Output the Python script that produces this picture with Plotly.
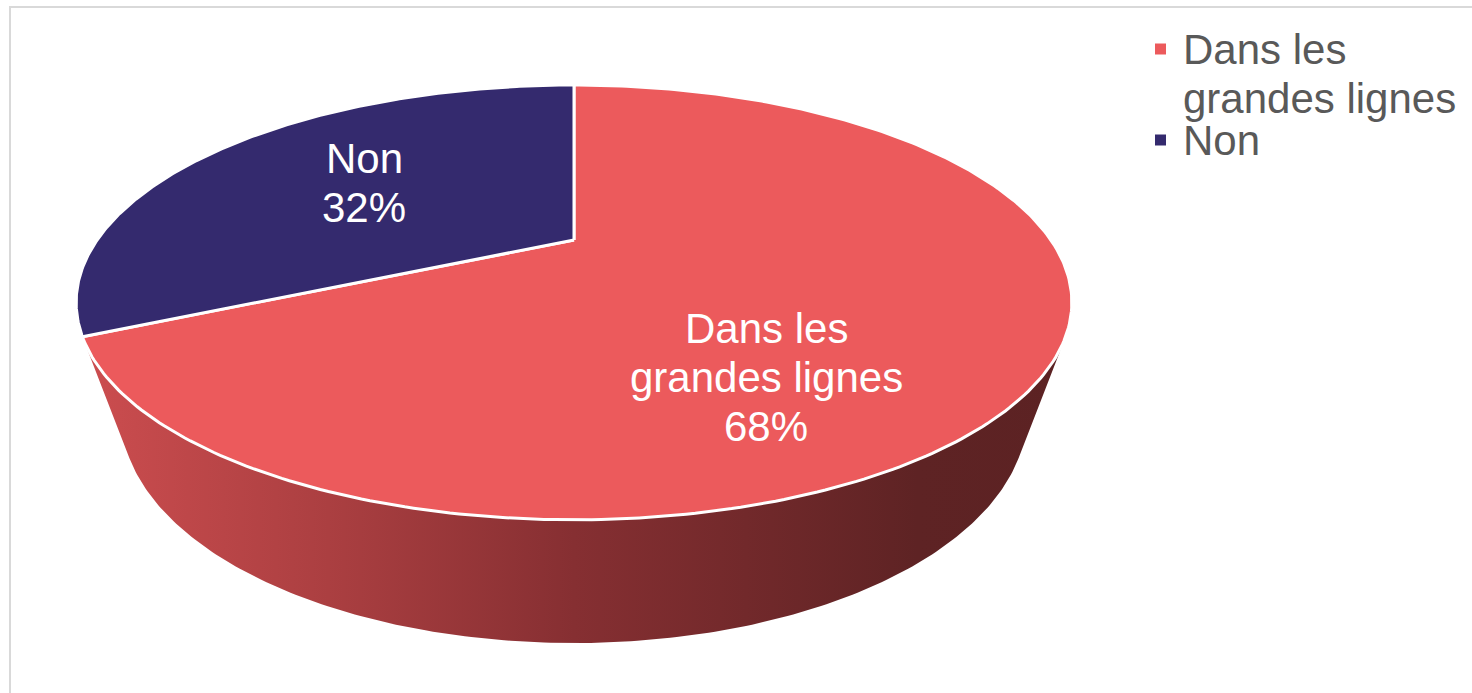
import numpy as np
import plotly.graph_objects as go

# ---- data -------------------------------------------------------------
categories = ["Dans les grandes lignes", "Non"]
label_lines = [["Dans les", "grandes lignes"], ["Non"]]
values = [68, 32]

# ---- styling ----------------------------------------------------------
top_colors = ["#EC5A5C", "#342A6E"]
side_scales = [
    [[0.0, "#CC4D4F"], [0.25, "#AB3F41"], [0.5, "#862F32"], [0.85, "#5E2324"], [1.0, "#5C2223"]],
    [[0.0, "#2F2660"], [1.0, "#1B1642"]],
]
FONT = "Liberation Sans, Arial, sans-serif"
W, H = 1472, 693

# ---- 3D pie camera (perspective projection of a tilted disc) ---------
CX, CY = 574.0, 240.0      # screen position of the pie centre
FX, FY = 1352.8, 974.4     # horizontal / vertical focal scale (plot area is stretched)
DIST = 2.8366              # camera distance (in pie radii)
TILT = np.radians(35.5)    # elevation of the camera
DEPTH = 0.4458             # thickness of the pie (in pie radii)
ca, sa = np.cos(TILT), np.sin(TILT)


def project(psi_deg, r=1.0, h=0.0):
    """psi measured clockwise from 12 o'clock, seen from above."""
    psi = np.radians(psi_deg)
    u = r * np.sin(psi)
    v = -r * np.cos(psi)
    z = DIST - v * ca - h * sa
    x = CX + FX * u / z
    y = CY + FY * (v * sa - h * ca) / z
    return x, y


# angular extent of every slice, first slice starting at 12 o'clock
total = float(sum(values))
bounds = np.concatenate([[0.0], np.cumsum(values) / total * 360.0])

# visible part of the cylinder wall lies between the two silhouette lines
psi_r = np.degrees(np.arccos(-1.0 / (DIST * ca)))
psi_l = 360.0 - psi_r
grad_start = project(psi_l, 1.0, 0.0)[0]
grad_stop = project(psi_r, 1.0, 0.0)[0]

fig = go.Figure()

# side walls
for i in range(len(values)):
    a0, a1 = max(bounds[i], psi_r), min(bounds[i + 1], psi_l)
    if a1 <= a0:
        continue
    ang = np.linspace(a0, a1, 200)
    xt, yt = project(ang, 1.0, 0.0)
    xb, yb = project(ang[::-1], 1.0, -DEPTH)
    fig.add_trace(go.Scatter(
        x=np.concatenate([xt, xb]), y=np.concatenate([yt, yb]),
        mode="lines", fill="toself", line=dict(width=0),
        fillgradient=dict(type="horizontal", colorscale=side_scales[i],
                          start=grad_start, stop=grad_stop),
        hoverinfo="skip", showlegend=False,
    ))

# top faces
for i, name in enumerate(categories):
    ang = np.linspace(bounds[i], bounds[i + 1], 300)
    xa, ya = project(ang, 1.0, 0.0)
    x0, y0 = project(0.0, 0.0, 0.0)
    fig.add_trace(go.Scatter(
        x=np.concatenate([[x0], xa, [x0]]), y=np.concatenate([[y0], ya, [y0]]),
        mode="lines", fill="toself", fillcolor=top_colors[i],
        line=dict(color="white", width=3), name=name,
        hoverinfo="skip", showlegend=False,
    ))

# ---- data labels --------------------------------------------------------
label_pos = [(766, 377), (364, 183)]
LINE_GAP = 49
annotations = []
for i in range(len(values)):
    lines = label_lines[i] + [f"{values[i]}%"]
    cx, cy = label_pos[i]
    n = len(lines)
    for k, txt in enumerate(lines):
        annotations.append(dict(
            x=cx, y=cy + (k - (n - 1) / 2) * LINE_GAP, xref="x", yref="y",
            text=txt, showarrow=False, xanchor="center", yanchor="middle",
            font=dict(family=FONT, size=42, color="white"),
        ))

# ---- legend (top right) -------------------------------------------------
legend_rows = [49, 140]
shapes = [dict(type="rect", xref="x", yref="y", x0=10, y0=7, x1=W + 20, y1=H + 20,
               line=dict(color="#D9D9D9", width=2), fillcolor="rgba(0,0,0,0)", layer="below")]
for i in range(len(values)):
    ry = legend_rows[i]
    shapes.append(dict(type="rect", xref="x", yref="y", x0=1155, x1=1166,
                       y0=ry - 5.5, y1=ry + 5.5, fillcolor=top_colors[i],
                       line=dict(width=0)))
    for k, txt in enumerate(label_lines[i]):
        annotations.append(dict(
            x=1181, y=ry + k * LINE_GAP, xref="x", yref="y", text=txt,
            showarrow=False, xanchor="left", yanchor="middle",
            font=dict(family=FONT, size=42, color="#595959"),
        ))

fig.update_layout(
    width=W, height=H, margin=dict(l=0, r=0, t=0, b=0),
    paper_bgcolor="white", plot_bgcolor="white",
    xaxis=dict(range=[0, W], visible=False, fixedrange=True),
    yaxis=dict(range=[H, 0], visible=False, fixedrange=True),
    showlegend=False, shapes=shapes, annotations=annotations,
)

fig.write_html("out.html")
